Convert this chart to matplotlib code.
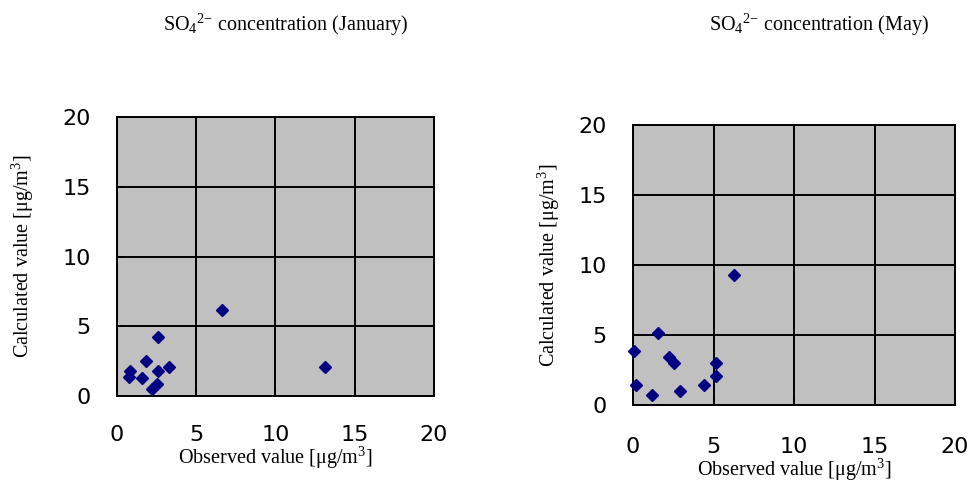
import matplotlib
matplotlib.use("Agg")
from matplotlib import pyplot as plt

# January
jan_obs = [6.6, 2.57, 1.81, 0.82, 0.78, 1.56, 2.57, 3.3, 2.5, 2.19, 13.1]
jan_calc = [6.2, 4.2, 2.5, 1.8, 1.34, 1.31, 1.81, 2.06, 0.86, 0.5, 2.06]

# May
may_obs = [6.27, 1.57, 0.08, 2.25, 2.57, 5.16, 5.16, 0.19, 4.43, 2.92, 1.18]
may_calc = [9.26, 5.12, 3.86, 3.45, 2.98, 3.02, 2.09, 1.43, 1.43, 1.0, 0.69]

ticks = [0, 5, 10, 15, 20]
titles = [r'SO$_4$$^{2{-}}$ concentration (January)', r'SO$_4$$^{2{-}}$ concentration (May)']

plt.rcParams['mathtext.fontset'] = 'custom'
plt.rcParams['mathtext.rm'] = 'Liberation Serif'
plt.rcParams['mathtext.it'] = 'Liberation Serif:italic'

fig = plt.figure(figsize=(9.73, 4.92), dpi=100)
ax1 = fig.add_axes([0.1202, 0.195, 0.3258, 0.567])
ax2 = fig.add_axes([0.6506, 0.1768, 0.3309, 0.5692])

serif = {'family': 'Liberation Serif', 'size': 14.5}

# per-panel label spacing: (xtickpad, xlabelpad, ylabelpad)
pads = [(21, 0, 19), (23, 0, 12)]

for ax, xs, ys, (tp, xp, yp) in [(ax1, jan_obs, jan_calc, pads[0]), (ax2, may_obs, may_calc, pads[1])]:
    ax.set_facecolor('#C0C0C0')
    ax.plot(xs, ys, linestyle='none', marker='D', markersize=6.5, color='#000080', zorder=3, clip_on=False)
    ax.set_xlim(0, 20)
    ax.set_ylim(0, 20)
    ax.set_xticks(ticks)
    ax.set_yticks(ticks)
    ax.grid(True, color='black', linewidth=1.4)
    ax.set_axisbelow(True)
    for s in ax.spines.values():
        s.set_linewidth(1.4)
        s.set_color('black')
    ax.tick_params(direction='in', length=5, width=1.2)
    ax.tick_params(axis='x', pad=tp)
    ax.tick_params(axis='y', pad=19)
    for lab in ax.get_xticklabels() + ax.get_yticklabels():
        lab.set_fontfamily('DejaVu Sans')
        lab.set_fontsize(16)
    ax.set_xlabel(r'Observed value [μg/m$^3$]', fontdict=serif, labelpad=xp)
    ax.set_ylabel(r'Calculated value [μg/m$^3$]', fontdict=serif, labelpad=yp)

fig.text(0.294, 0.949, titles[0], ha='center', va='center', family='Liberation Serif', fontsize=14.5)
fig.text(0.842, 0.949, titles[1], ha='center', va='center', family='Liberation Serif', fontsize=14.5)

fig.savefig('out.png', dpi=100)
